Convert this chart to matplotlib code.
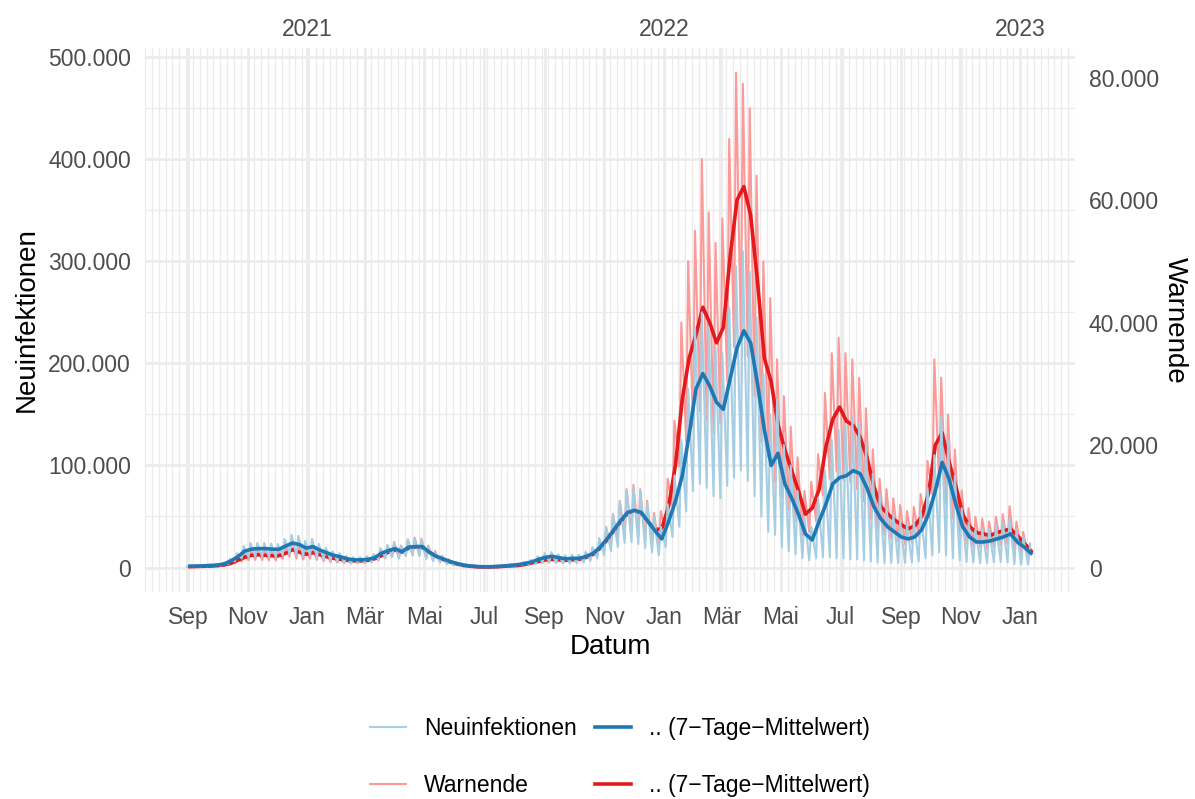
import matplotlib
matplotlib.use("Agg")
import matplotlib.pyplot as plt
import matplotlib.dates as mdates
import matplotlib.transforms as mtransforms
from matplotlib.ticker import FuncFormatter
import numpy as np
import pandas as pd

plt.rcParams['font.family'] = ['Liberation Sans', 'DejaVu Sans']

# Wochenwerte (Donnerstag), alle Werte in Tausend
wochen = pd.date_range("2020-09-03", periods=124, freq="7D")

# Neuinfektionen: 7-Tage-Mittelwert, Wochenhoch, Wochentief
neu_mittel = [1.3, 1.4, 1.6, 2.0, 2.4, 3.5, 6.5, 10.5, 16, 18,
              18.5, 18.5, 18, 17.8, 21, 24, 22.5, 19, 20.5, 17,
              14.5, 12, 10.5, 8.5, 7.5, 7.5, 8, 9.5, 14, 16.5,
              18.5, 15.5, 20, 20.5, 20.5, 15, 11, 8.5, 6, 4,
              2.5, 1.5, 1, 0.7, 0.8, 1.1, 1.5, 2.2, 2.8, 4,
              5.5, 8, 10, 11, 9.5, 8.5, 9, 9, 11, 14,
              20, 28, 37, 46, 54, 56, 54, 45, 36, 28,
              45, 65, 90, 130, 175, 190, 178, 162, 155, 185,
              215, 232, 220, 180, 135, 100, 112, 82, 68, 52,
              33, 27, 45, 62, 82, 88, 90, 95, 92, 78,
              60, 48, 40, 35, 30, 28, 30, 37, 52, 75,
              103, 87, 62, 40, 30, 25, 25, 26, 28, 30,
              33, 25, 20, 14]
neu_hoch = [1.8, 1.9, 2.2, 2.7, 3.2, 4.8, 8.5, 14, 21, 24,
            24, 24, 23.5, 23, 28, 32, 31, 26, 28, 23,
            19.5, 16, 14, 11.5, 10, 10, 11, 13, 19, 22,
            25, 21, 27, 28, 27.5, 20, 15, 11.5, 8, 5.5,
            3.4, 2, 1.4, 1, 1.1, 1.5, 2.1, 3, 3.8, 5.5,
            7.5, 11, 14, 15, 13, 12, 12.5, 12.5, 15.5, 20,
            29, 40, 52, 65, 76, 78, 75, 63, 50, 40,
            62, 90, 125, 175, 235, 250, 235, 215, 210, 255,
            295, 310, 290, 245, 190, 150, 165, 120, 100, 75,
            50, 40, 68, 95, 125, 135, 140, 148, 140, 120,
            92, 72, 60, 52, 45, 42, 45, 56, 78, 110,
            148, 125, 90, 58, 44, 37, 37, 38, 42, 45,
            48, 37, 30, 22]
neu_tief = [0.7, 0.8, 0.9, 1.1, 1.3, 1.9, 3.6, 6, 9, 10,
            10.5, 10.5, 10, 10, 12, 13, 12, 11, 12, 9.5,
            8, 7, 6, 5, 4.5, 4.5, 4.8, 5.5, 8, 9.5,
            10.5, 9, 11.5, 12, 11.5, 8.5, 6.3, 5, 3.5, 2.3,
            1.4, 0.9, 0.6, 0.4, 0.45, 0.6, 0.8, 1.2, 1.5, 2.1,
            2.8, 4, 5, 5.5, 4.5, 4, 4.2, 4.3, 5, 6.5,
            9, 12, 16, 20, 24, 25, 23, 19, 15, 12,
            20, 30, 40, 55, 75, 82, 78, 70, 68, 80,
            88, 95, 85, 70, 50, 35, 32, 20, 16, 13,
            9, 7, 9, 10, 10, 9, 9, 8, 8, 7,
            6, 5, 4.5, 4.5, 4.5, 4.5, 5, 6, 9, 12,
            15, 12, 9, 7, 5.5, 5, 4.5, 4.5, 5, 5.5,
            5, 3.5, 3, 3]

# Warnende (rechte Achse)
warn_mittel = [0.13, 0.17, 0.2, 0.23, 0.3, 0.42, 0.67, 1.17, 1.67, 2.0,
               2.08, 2.0, 1.92, 1.92, 2.33, 2.92, 2.5, 2.17, 2.42, 2.08,
               1.75, 1.5, 1.33, 1.17, 1.08, 1.08, 1.17, 1.42, 1.92, 2.5,
               2.83, 2.5, 3.17, 3.33, 3.25, 2.5, 1.83, 1.33, 0.92, 0.58,
               0.33, 0.2, 0.12, 0.08, 0.1, 0.13, 0.2, 0.27, 0.33, 0.5,
               0.75, 1.0, 1.25, 1.33, 1.25, 1.17, 1.25, 1.33, 1.67, 2.17,
               3.17, 4.5, 6.0, 7.5, 8.83, 9.33, 8.83, 7.5, 6.17, 6.33,
               10, 16.7, 27.5, 34.2, 38, 42.5, 40, 36.7, 39.2, 50.8,
               60, 62.2, 57.5, 46.7, 34.2, 30.3, 23.3, 19.2, 15.8, 12.5,
               8.7, 9.7, 12.7, 19.7, 24.2, 26.2, 23.9, 23.2, 21.3, 18,
               13.3, 10, 8.8, 7.8, 7, 6.3, 6.8, 8.3, 12, 20,
               22, 17.3, 13.3, 8.7, 6.7, 5.7, 5.5, 5.2, 5.7, 6,
               6.3, 5.2, 4, 2.7]
warn_hoch = [0.19, 0.25, 0.29, 0.33, 0.44, 0.6, 0.97, 1.7, 2.4, 2.9,
             3.0, 2.9, 2.8, 2.8, 3.4, 4.5, 3.6, 3.1, 3.5, 3.0,
             2.5, 2.2, 1.9, 1.7, 1.6, 1.6, 1.7, 2.1, 2.8, 3.6,
             4.1, 3.6, 4.6, 4.9, 4.7, 3.6, 2.7, 1.9, 1.3, 0.85,
             0.48, 0.29, 0.17, 0.12, 0.15, 0.19, 0.29, 0.39, 0.48, 0.73,
             1.1, 1.45, 1.8, 1.9, 1.8, 1.7, 1.8, 1.9, 2.4, 3.1,
             4.6, 6.5, 8.7, 10.9, 12.8, 13.5, 12.8, 10.9, 8.9, 9.2,
             14.5, 24, 40, 50, 55, 66.7, 58, 53, 57, 70,
             80.8, 79, 75, 64, 50, 44, 34, 28, 23, 18,
             12.5, 14, 18.5, 28.5, 35, 37.5, 35, 34, 31, 26,
             19.3, 14.5, 12.8, 11.3, 10.2, 9.2, 9.9, 12, 17.4, 34,
             31, 25, 19.3, 12.6, 9.7, 8.3, 8, 7.5, 8.3, 8.7,
             10, 7.5, 5.8, 3.9]
warn_tief = [0.08, 0.1, 0.12, 0.14, 0.18, 0.25, 0.4, 0.7, 1.0, 1.2,
             1.25, 1.2, 1.15, 1.15, 1.4, 1.75, 1.5, 1.3, 1.45, 1.25,
             1.05, 0.9, 0.8, 0.7, 0.65, 0.65, 0.7, 0.85, 1.15, 1.5,
             1.7, 1.5, 1.9, 2.0, 1.95, 1.5, 1.1, 0.8, 0.55, 0.35,
             0.2, 0.12, 0.07, 0.05, 0.06, 0.08, 0.12, 0.16, 0.2, 0.3,
             0.45, 0.6, 0.75, 0.8, 0.75, 0.7, 0.75, 0.8, 1.0, 1.3,
             1.9, 2.7, 3.6, 4.5, 5.3, 5.6, 5.3, 4.5, 3.7, 3.8,
             6, 10, 16.5, 20.5, 23, 25.5, 24, 22, 23.5, 30.5,
             36, 37, 34.5, 28, 20.5, 18, 14, 11.5, 9.5, 7.5,
             5.2, 5.8, 7.6, 11.8, 14.5, 15.7, 14.3, 14, 12.8, 10.8,
             8, 6, 5.3, 4.7, 4.2, 3.8, 4.1, 5, 7.2, 12,
             13.2, 10.4, 8, 5.2, 4, 3.4, 3.3, 3.1, 3.4, 3.6,
             3.8, 3.1, 2.4, 1.6]

monate = {1: "Jan", 3: "Mär", 5: "Mai", 7: "Jul", 9: "Sep", 11: "Nov"}

# Tageskurve: Tief am Montag, Hoch am Mittwoch
x_roh = np.ravel(np.column_stack([(wochen - pd.Timedelta(days=3)).values,
                                  (wochen - pd.Timedelta(days=1)).values]))
neu_roh = np.ravel(np.column_stack([neu_tief, neu_hoch]))
warn_roh = np.ravel(np.column_stack([warn_tief, warn_hoch]))

fig = plt.figure(figsize=(11.95, 7.99), dpi=100)
ax = fig.add_axes([145 / 1195, 1 - 592 / 799, 930 / 1195, 544 / 799])

# Warnende liegt auf der Sekundaerachse (Faktor 6)
warn_trans = mtransforms.Affine2D().scale(1, 6) + ax.transData

l_wr, = ax.plot(x_roh, warn_roh, color="#FB9A99", lw=1.5, transform=warn_trans, zorder=2)
l_wm, = ax.plot(wochen, warn_mittel, color="#E31A1C", lw=2.6, transform=warn_trans, zorder=3)
l_nr, = ax.plot(x_roh, neu_roh, color="#A6CEE3", lw=1.5, zorder=4)
l_nm, = ax.plot(wochen, neu_mittel, color="#1F78B4", lw=2.6, zorder=5)

ax.set_xlim(pd.Timestamp("2020-07-22"), pd.Timestamp("2023-02-24"))
ax.set_ylim(-24, 509)

fmt = FuncFormatter(lambda v, p: f"{v * 1000:,.0f}".replace(",", "."))

major = pd.date_range("2020-09-01", "2023-01-01", freq="2MS")
ax.set_xticks(major)
ax.set_xticklabels([monate[d.month] for d in major])
ax.set_xticks(pd.date_range("2020-07-19", "2023-03-01", freq="W-SUN"), minor=True)
ax.set_yticks([0, 100, 200, 300, 400, 500])
ax.set_yticks([50, 150, 250, 350, 450], minor=True)
ax.yaxis.set_major_formatter(fmt)
ax.grid(which="major", color="#EBEBEB", lw=1.9)
ax.grid(which="minor", color="#EBEBEB", lw=0.9)
ax.set_axisbelow(True)
ax.tick_params(which="both", length=0, labelsize=16.5, labelcolor="#4D4D4D", pad=10)
for s in ax.spines.values():
    s.set_visible(False)

ax.set_xlabel("Datum", fontsize=20, labelpad=4)
ax.set_ylabel("Neuinfektionen", fontsize=20, labelpad=6)

sec = ax.secondary_yaxis("right", functions=(lambda y: y / 6, lambda y: y * 6))
sec.set_yticks([0, 20, 40, 60, 80])
sec.yaxis.set_major_formatter(fmt)
sec.tick_params(length=0, labelsize=16.5, labelcolor="#4D4D4D", pad=10)
sec.set_ylabel("Warnende", fontsize=20, rotation=270, va="bottom", labelpad=2)
for s in sec.spines.values():
    s.set_visible(False)

top = ax.secondary_xaxis("top")
jahre = pd.to_datetime(["2021-01-01", "2022-01-01", "2023-01-01"])
top.set_xticks(mdates.date2num(jahre))
top.set_xticklabels([str(d.year) for d in jahre])
top.tick_params(length=0, labelsize=16.5, labelcolor="#4D4D4D", pad=5)
for s in top.spines.values():
    s.set_visible(False)

fig.legend(handles=[l_nr, l_wr, l_nm, l_wm],
           labels=["Neuinfektionen", "Warnende",
                   ".. (7\u2212Tage\u2212Mittelwert)", ".. (7\u2212Tage\u2212Mittelwert)"],
           ncol=2, loc="center", bbox_to_anchor=(620 / 1195, 1 - 757 / 799),
           frameon=False, fontsize=16.5, handlelength=1.55, handletextpad=0.8,
           columnspacing=0.8, labelspacing=1.5)

fig.savefig("out.png", dpi=100)
